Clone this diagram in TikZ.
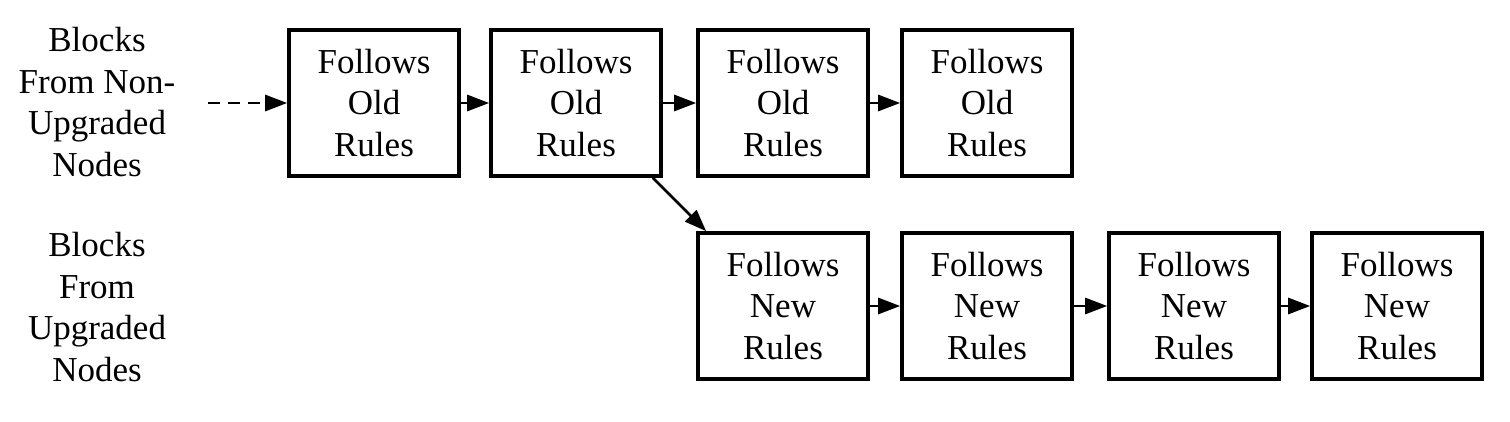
\documentclass[tikz,border=0pt]{standalone}
\usepackage{fontspec}
\setmainfont{Liberation Serif}
\usetikzlibrary{arrows.meta}
\begin{document}
\begin{tikzpicture}[x=0.5pt,y=-0.5pt,
  blockbox/.style={draw, line width=1.8pt, minimum width=85pt, minimum height=73pt, inner sep=0pt, align=center, font=\fontsize{17.5}{20.7}\selectfont},
  lbl/.style={align=center, inner sep=0pt, font=\fontsize{17.5}{20.7}\selectfont},
  conn/.style={line width=1.4pt, -{Triangle[length=11pt,width=8pt]}},
  dconn/.style={conn, dash pattern=on 6pt off 4pt}]
\useasboundingbox (0,0) rectangle (1510,422);
\node[lbl] (l1) at (97,102) {Blocks\\From Non-\\Upgraded\\Nodes};
\node[lbl] (l2) at (97,307) {Blocks\\From\\Upgraded\\Nodes};
\coordinate (start) at (208,103);
\node[blockbox] (o1) at (374,103) {Follows\\Old\\Rules};
\node[blockbox] (o2) at (576,103) {Follows\\Old\\Rules};
\node[blockbox] (o3) at (783,103) {Follows\\Old\\Rules};
\node[blockbox] (o4) at (987,103) {Follows\\Old\\Rules};
\node[blockbox] (n1) at (783,306) {Follows\\New\\Rules};
\node[blockbox] (n2) at (987,306) {Follows\\New\\Rules};
\node[blockbox] (n3) at (1194,306) {Follows\\New\\Rules};
\node[blockbox] (n4) at (1397,306) {Follows\\New\\Rules};
\draw[dconn] (start) -- (o1.west);
\draw[conn] (o1) -- (o2);
\draw[conn] (o2) -- (o3);
\draw[conn] (o3) -- (o4);
\draw[conn] ([xshift=-5pt]o2.south east) -- ([xshift=5pt]n1.north west);
\draw[conn] (n1) -- (n2);
\draw[conn] (n2) -- (n3);
\draw[conn] (n3) -- (n4);
\end{tikzpicture}
\end{document}
